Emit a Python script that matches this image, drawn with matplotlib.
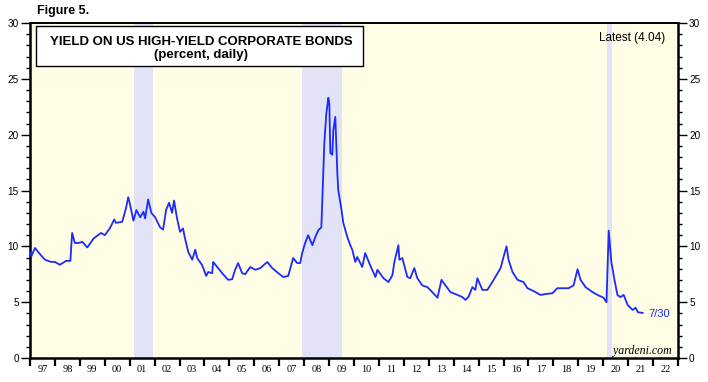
import matplotlib
matplotlib.use("Agg")
import matplotlib.pyplot as plt
from matplotlib.patches import Rectangle
import numpy as np

# ---- data (decimal year, yield %) ----
dates = [1997.00, 1997.05, 1997.20, 1997.40, 1997.60, 1997.85, 1998.00, 1998.20, 1998.45, 1998.62,
         1998.69, 1998.80, 1998.95, 1999.10, 1999.30, 1999.55, 1999.85, 2000.00, 2000.20, 2000.38,
         2000.45, 2000.70, 2000.85, 2000.94, 2001.00, 2001.15, 2001.27, 2001.42, 2001.55, 2001.62,
         2001.74, 2001.87, 2002.02, 2002.22, 2002.34, 2002.46, 2002.58, 2002.70, 2002.78, 2002.90,
         2003.02, 2003.14, 2003.22, 2003.35, 2003.51, 2003.63, 2003.71, 2003.91, 2004.07, 2004.15,
         2004.31, 2004.35, 2004.51, 2004.71, 2004.95, 2005.11, 2005.23, 2005.35, 2005.51, 2005.63,
         2005.84, 2006.04, 2006.24, 2006.52, 2006.72, 2006.96, 2007.16, 2007.36, 2007.56, 2007.72,
         2007.84, 2007.92, 2008.04, 2008.16, 2008.33, 2008.45, 2008.57, 2008.69, 2008.77, 2008.81,
         2008.89, 2008.97, 2009.01, 2009.05, 2009.13, 2009.17, 2009.25, 2009.33, 2009.37, 2009.49,
         2009.57, 2009.73, 2009.85, 2009.93, 2010.05, 2010.13, 2010.33, 2010.45, 2010.65, 2010.86,
         2010.94, 2011.18, 2011.38, 2011.54, 2011.62, 2011.78, 2011.82, 2011.94, 2012.14, 2012.26,
         2012.42, 2012.54, 2012.74, 2012.94, 2013.14, 2013.35, 2013.51, 2013.67, 2013.87, 2014.15,
         2014.35, 2014.47, 2014.60, 2014.75, 2014.87, 2014.95, 2015.15, 2015.35, 2015.55, 2015.76,
         2015.88, 2016.00, 2016.12, 2016.20, 2016.36, 2016.56, 2016.80, 2016.96, 2017.20, 2017.48,
         2017.76, 2017.96, 2018.16, 2018.37, 2018.61, 2018.81, 2018.97, 2019.09, 2019.29, 2019.57,
         2019.77, 2020.01, 2020.13, 2020.22, 2020.33, 2020.37, 2020.45, 2020.57, 2020.69, 2020.82,
         2020.98, 2021.18, 2021.30, 2021.39, 2021.58]
yields = [9.5, 9.1, 9.85, 9.3, 8.8, 8.6, 8.6, 8.35, 8.7, 8.7,
          11.2, 10.3, 10.3, 10.4, 9.9, 10.7, 11.2, 11.0, 11.6, 12.4,
          12.1, 12.2, 13.4, 14.4, 13.9, 12.3, 13.25, 12.6, 13.1, 12.5,
          14.2, 13.0, 12.6, 11.7, 11.5, 13.25, 13.9, 13.0, 14.1, 12.5,
          11.3, 11.6, 10.7, 9.5, 8.8, 9.7, 8.95, 8.3, 7.35, 7.7,
          7.6, 8.6, 8.15, 7.6, 7.0, 7.05, 7.9, 8.5, 7.6, 7.5,
          8.15, 7.9, 8.05, 8.6, 8.05, 7.6, 7.25, 7.35, 8.95, 8.5,
          8.5, 9.4, 10.3, 11.0, 10.1, 10.85, 11.45, 11.7, 16.6, 19.3,
          21.9, 23.3, 22.8, 18.35, 18.2, 20.4, 21.6, 16.6, 15.0, 13.4,
          12.1, 10.85, 10.1, 9.7, 8.6, 9.05, 8.15, 9.4, 8.3, 7.25,
          7.9, 7.15, 6.8, 7.4, 8.6, 10.1, 8.8, 8.95, 7.25, 7.15,
          8.05, 7.15, 6.5, 6.35, 5.9, 5.4, 7.0, 6.5, 5.9, 5.65,
          5.45, 5.2, 5.5, 6.35, 6.1, 7.15, 6.1, 6.1, 6.8, 7.6,
          8.05, 9.05, 10.0, 8.8, 7.7, 7.0, 6.8, 6.25, 6.0, 5.65,
          5.75, 5.8, 6.25, 6.25, 6.25, 6.5, 7.95, 7.0, 6.35, 5.9,
          5.65, 5.4, 5.0, 11.4, 8.5, 8.05, 7.0, 5.65, 5.45, 5.65,
          4.75, 4.3, 4.5, 4.1, 4.04]

recessions = [(2001.18, 2001.92), (2007.92, 2009.50), (2020.15, 2020.34)]
year_labels = ["97", "98", "99", "00", "01", "02", "03", "04", "05", "06", "07", "08", "09",
               "10", "11", "12", "13", "14", "15", "16", "17", "18", "19", "20", "21", "22"]
latest_value = 4.04
latest_label = "7/30"

W, H = 708, 382
fig = plt.figure(figsize=(W / 100, H / 100), dpi=100)
fig.patch.set_facecolor("white")
L, R, T, B = 30, 678, 23, 358
ax = fig.add_axes([L / W, 1 - B / H, (R - L) / W, (B - T) / H])
ax.set_facecolor("#fffde6")

for s, e in recessions:
    ax.axvspan(s, e, color="#e3e3f8", lw=0, zorder=1)

line_color = "#1a2bff"
ax.plot(dates, yields, color=line_color, lw=1.3, zorder=3)

ax.set_xlim(1997, 2023)
ax.set_ylim(0, 30)

# x axis ticks
ax.set_xticks(np.arange(1997, 2024, 1))
ax.set_xticklabels([])
ax.set_xticks(np.arange(1997.5, 2023, 1), minor=True)
ax.set_xticklabels(year_labels, minor=True, fontfamily="Liberation Serif", fontsize=7.5)
ax.tick_params(axis="x", which="major", direction="out", length=6, width=1.6, color="black")
ax.tick_params(axis="x", which="minor", length=0, pad=5)

# y axis ticks
ax.set_yticks(np.arange(0, 31, 5))
ax.set_yticks(np.arange(0, 31, 1), minor=True)
ax.tick_params(axis="y", which="major", direction="out", length=6.5, width=1.0,
               left=True, right=True, labelleft=True, labelright=True,
               labelsize=7.2, pad=1.5)
ax.tick_params(axis="y", which="minor", direction="out", length=3, width=1.0,
               left=True, right=True)
for lab in ax.get_yticklabels():
    lab.set_fontfamily("Liberation Sans")

for side in ["left", "right", "bottom"]:
    ax.spines[side].set_linewidth(1.8)
ax.spines["top"].set_linewidth(1.4)

def fx(x):
    return x / W

def fy(y):
    return 1 - y / H

fig.text(fx(37), fy(11), "Figure 5.", fontfamily="Liberation Sans", fontweight="bold",
         fontsize=9, ha="left", va="center")

box = Rectangle((fx(36), fy(66)), fx(363) - fx(36), fy(26) - fy(66), transform=fig.transFigure,
                facecolor="white", edgecolor="black", lw=1.0, zorder=5)
fig.patches.append(box)
fig.text(fx(201), fy(42), "YIELD ON US HIGH-YIELD CORPORATE BONDS", fontfamily="Liberation Sans",
         fontweight="bold", fontsize=9.5, ha="center", va="center", zorder=6)
fig.text(fx(201), fy(55), "(percent, daily)", fontfamily="Liberation Sans",
         fontweight="bold", fontsize=9.5, ha="center", va="center", zorder=6)

fig.text(fx(665), fy(38), f"Latest ({latest_value:.2f})", fontfamily="Liberation Sans",
         fontsize=8.5, ha="right", va="center")

ax.annotate(latest_label, xy=(dates[-1], yields[-1]), xytext=(4, -1), textcoords="offset points",
            color=line_color, fontfamily="Liberation Sans", fontsize=8, ha="left", va="center")

fig.text(fx(672), fy(351), "yardeni.com", fontfamily="Liberation Serif", fontstyle="italic",
         fontsize=8.6, ha="right", va="center")

fig.savefig("out.png", dpi=100)
